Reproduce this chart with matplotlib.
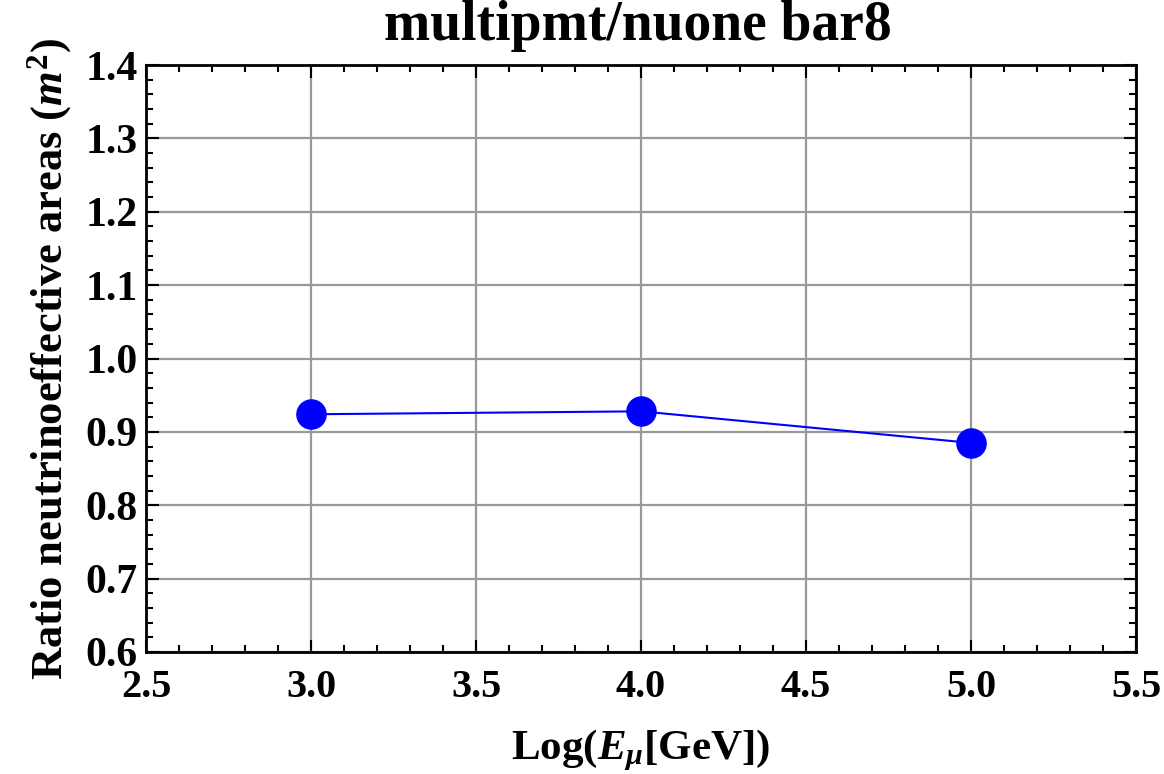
import matplotlib
matplotlib.use("Agg")
import matplotlib.pyplot as plt
from matplotlib.ticker import MultipleLocator

# Data: log10 of muon energy vs. ratio of neutrino effective areas
log_energy = [3.0, 4.0, 5.0]
area_ratio = [0.924, 0.928, 0.885]

x_limits = (2.5, 5.5)
y_limits = (0.6, 1.4)
x_ticks = [2.5, 3.0, 3.5, 4.0, 4.5, 5.0, 5.5]
y_ticks = [0.6, 0.7, 0.8, 0.9, 1.0, 1.1, 1.2, 1.3, 1.4]

title_text = "multipmt/nuone bar8"
x_label = "Log(" + r"$E_{\mu}$" + "[GeV])"
y_label = "Ratio neutrinoeffective areas " + r"$(m^{2})$"

plt.rcParams["font.family"] = ["Liberation Serif", "DejaVu Serif"]
plt.rcParams["font.weight"] = "bold"
plt.rcParams["mathtext.fontset"] = "custom"
plt.rcParams["mathtext.rm"] = "Liberation Serif:bold"
plt.rcParams["mathtext.it"] = "Liberation Serif:italic:bold"
plt.rcParams["mathtext.bf"] = "Liberation Serif:bold"

fig = plt.figure(figsize=(11.64, 7.74), dpi=100)
ax = fig.add_axes([146 / 1164, 1 - 652 / 774, (1136 - 146) / 1164, (652 - 65) / 774])

ax.plot(log_energy, area_ratio, color="#0000ff", linewidth=1.5,
        marker="o", markersize=21, markerfacecolor="#0000ff",
        markeredgecolor="#0000ff", zorder=3)

ax.set_xlim(*x_limits)
ax.set_ylim(*y_limits)
ax.set_xticks(x_ticks)
ax.set_yticks(y_ticks)
ax.set_xticklabels([f"{v:.1f}" for v in x_ticks])
ax.set_yticklabels([f"{v:.1f}" for v in y_ticks])
ax.xaxis.set_minor_locator(MultipleLocator(0.1))
ax.yaxis.set_minor_locator(MultipleLocator(0.02))

ax.tick_params(which="both", direction="in", top=True, right=True,
               color="black", width=1.5)
ax.tick_params(which="major", length=9)
ax.tick_params(which="minor", length=5)
ax.tick_params(axis="x", which="major", labelsize=29, pad=12)
ax.tick_params(axis="y", which="major", labelsize=30, pad=6)

ax.grid(True, which="major", color="#999999", linewidth=1.6)
ax.set_axisbelow(True)
for spine in ax.spines.values():
    spine.set_linewidth(2)
    spine.set_color("black")

ax.set_xlabel(x_label, fontsize=31, fontweight="bold", labelpad=16)
ax.set_ylabel(y_label, fontsize=32, fontweight="bold", labelpad=8)

fig.text(0.548, 1 - 40 / 774, title_text, ha="center", va="baseline",
         fontsize=40, fontweight="bold")

fig.savefig("out.png", dpi=100)
